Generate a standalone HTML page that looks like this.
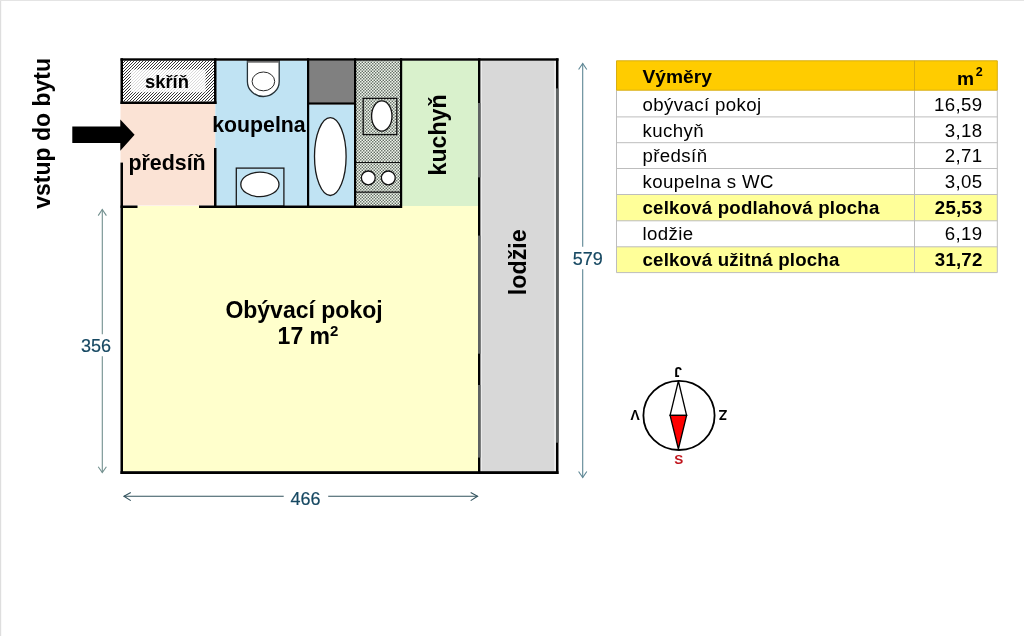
<!DOCTYPE html>
<html><head><meta charset="utf-8">
<style>
html,body{margin:0;padding:0;background:#fff;width:1024px;height:636px;overflow:hidden}
svg{display:block;will-change:transform;font-family:"Liberation Sans",sans-serif}
</style></head>
<body>
<svg width="1024" height="636" viewBox="0 0 1024 636">
<defs>
<pattern id="hatch" width="3" height="3" patternUnits="userSpaceOnUse">
<rect width="3" height="3" fill="#fff"/>
<path d="M-1,1 L1,-1 M0,3 L3,0 M2,4 L4,2" stroke="#2a2a2a" stroke-width="0.95"/>
</pattern>
<pattern id="dots" width="3" height="3" patternUnits="userSpaceOnUse">
<rect width="3" height="3" fill="#f0f6ec"/>
<rect x="0.1" y="0.1" width="1.35" height="1.35" fill="#525c54"/>
<rect x="1.6" y="1.6" width="1.35" height="1.35" fill="#525c54"/>
</pattern>
</defs>
<rect x="0" y="0" width="1024" height="636" fill="#fff"/>
<rect x="0" y="0" width="1.2" height="636" fill="#dedede"/>
<rect x="0" y="0" width="1024" height="1" fill="#e4e4e4"/>

<!-- fills -->
<rect x="123" y="60.5" width="91" height="41" fill="url(#hatch)"/>
<rect x="130.7" y="69.5" width="74.8" height="22.7" fill="#fff" fill-opacity="0.82"/>
<rect x="120.5" y="104" width="94.8" height="101.5" fill="#fbe3d5"/>
<rect x="215.3" y="60.5" width="91.7" height="145" fill="#c0e3f3"/>
<rect x="309" y="60.5" width="45" height="42" fill="#808080"/>
<rect x="309" y="104.6" width="45" height="101" fill="#c0e3f3"/>
<rect x="356" y="60.5" width="44" height="145" fill="url(#dots)"/>
<rect x="402" y="60.5" width="76" height="145.5" fill="#d9f1cc"/>
<rect x="123" y="206" width="355" height="265.5" fill="#ffffcc"/>
<rect x="480.5" y="60.5" width="75.5" height="411" fill="#d8d8d8"/>
<rect x="480.4" y="60.5" width="1.3" height="411" fill="#f4f4f4"/>
<rect x="554.4" y="60.5" width="1.2" height="411" fill="#f4f4f4"/>

<!-- fixtures -->
<path d="M247.4,60.5 V81.4 A15.9,15.1 0 0 0 279.2,81.4 V60.5 Z" fill="#fff" stroke="#263238" stroke-width="1.3"/>
<rect x="247.4" y="60.5" width="31.8" height="2.2" fill="#6a6a6a"/>
<ellipse cx="263.4" cy="81.4" rx="11.3" ry="9.4" fill="#fff" stroke="#2a2a2a" stroke-width="1"/>
<rect x="236.3" y="168.1" width="47.6" height="38" fill="none" stroke="#1a1a1a" stroke-width="1.3"/>
<ellipse cx="259.9" cy="184.4" rx="19.1" ry="12.2" fill="#fff" stroke="#1a1a1a" stroke-width="1.3"/>
<ellipse cx="330.3" cy="156.6" rx="15.8" ry="38.9" fill="#fff" stroke="#1a1a1a" stroke-width="1.3"/>
<rect x="363.2" y="98.4" width="33.6" height="36.2" fill="none" stroke="#111" stroke-width="1.3"/>
<ellipse cx="381.8" cy="116" rx="10.2" ry="15.1" fill="#fff" stroke="#111" stroke-width="1.3"/>
<path d="M356,162.5 H400 M356,192.2 H400" stroke="#111" stroke-width="1.2"/>
<circle cx="368.3" cy="177.9" r="6.9" fill="#fff" stroke="#111" stroke-width="1.3"/>
<circle cx="388.3" cy="177.9" r="6.9" fill="#fff" stroke="#111" stroke-width="1.3"/>

<!-- walls -->
<g fill="#000">
<rect x="120.5" y="58.3" width="438" height="2.4"/>
<rect x="120.5" y="58.3" width="2.5" height="45.7"/>
<rect x="120.5" y="101.5" width="96" height="2.5"/>
<rect x="214" y="58.3" width="2.5" height="45.7"/>
<rect x="214" y="148" width="2.5" height="60"/>
<rect x="120.5" y="162.6" width="2.5" height="311.4"/>
<rect x="120.5" y="205.5" width="17" height="2.5"/>
<rect x="199" y="205.5" width="203" height="2.5"/>
<rect x="307" y="58.3" width="2.2" height="149.7"/>
<rect x="307" y="102.3" width="49" height="2.3"/>
<rect x="354" y="58.3" width="2.2" height="149.7"/>
<rect x="400" y="58.3" width="2.2" height="149.7"/>
<rect x="478" y="58.3" width="2.4" height="415.7"/>
<rect x="556" y="58.3" width="2.5" height="415.7"/>
<rect x="120.5" y="471.2" width="438" height="2.8"/>
</g>
<g fill="#5e6262">
<rect x="478" y="103" width="2.4" height="74.4"/>
<rect x="478" y="235.6" width="2.4" height="118.1"/>
<rect x="478" y="385" width="2.4" height="72.6"/>
<rect x="556" y="88.4" width="2.5" height="354.3"/>
</g>

<!-- entry arrow -->
<path d="M72.3,126.6 H120.3 V119.4 L134.6,134.7 L120.3,150.7 V142.9 H72.3 Z" fill="#000"/>

<!-- room labels -->
<g font-weight="bold" fill="#000">
<text x="0" y="0" font-size="23" transform="translate(49.5,208.8) rotate(-90)">vstup do bytu</text>
<text x="145" y="87.7" font-size="18.4">skříň</text>
<text x="128.4" y="169.6" font-size="21.4">předsíň</text>
<text x="212.2" y="131.6" font-size="21.3">koupelna</text>
<text x="0" y="0" font-size="23.2" transform="translate(445.5,175.5) rotate(-90)">kuchyň</text>
<text x="0" y="0" font-size="23.3" transform="translate(526,295.3) rotate(-90)">lodžie</text>
<text x="304" y="317.8" font-size="23" text-anchor="middle">Obývací pokoj</text>
<text x="308" y="343.6" font-size="23" text-anchor="middle">17 m<tspan font-size="15" dy="-7.5">2</tspan></text>
</g>

<!-- dimensions -->
<g stroke="#72908f" stroke-width="1.1" fill="none">
<path d="M102.3,209.5 V334.2 M102.3,356.3 V472.5"/>
<path d="M98.2,215.6 L102.3,209.5 L106.4,215.6 M98.2,466.7 L102.3,472.6 L106.4,466.7"/>
</g>
<g stroke="#33535e" stroke-width="1.1" fill="none">
<path d="M124,496.3 H283.7 M328.2,496.3 H477.6"/>
<path d="M130.8,492.4 L123.9,496.3 L130.8,500.6 M470.7,492.4 L477.6,496.3 L470.7,500.6"/>
</g>
<g stroke="#5e8795" stroke-width="1.1" fill="none">
<path d="M582.7,63.5 V246.8 M582.7,269.2 V477.5"/>
<path d="M578.6,69.5 L582.7,63.4 L586.8,69.5 M578.6,471.5 L582.7,477.6 L586.8,471.5"/>
</g>
<g fill="#164862" font-size="18" stroke="#164862" stroke-width="0.2">
<text x="81" y="352">356</text>
<text x="290.5" y="505">466</text>
<text x="572.7" y="265">579</text>
</g>

<!-- table -->
<g>
<rect x="616.5" y="60.8" width="380.8" height="29.4" fill="#ffcc00"/>
<rect x="616.5" y="194.5" width="380.8" height="26.3" fill="#ffff99"/>
<rect x="616.5" y="246.8" width="380.8" height="25.8" fill="#ffff99"/>
<g stroke="#bdbdbd" stroke-width="1" fill="none">
<path d="M616.5,90.2 V272.6 M914.5,90.2 V272.6 M997.3,90.2 V272.6"/>
<path d="M616.5,116.9 H997.3 M616.5,142.7 H997.3 M616.5,168.5 H997.3 M616.5,194.5 H997.3 M616.5,220.8 H997.3 M616.5,246.8 H997.3 M616.5,272.6 H997.3"/>
</g>
<g stroke="#d8ad10" stroke-width="1" fill="none">
<path d="M616.5,60.8 H997.3 M616.5,90.2 H997.3 M616.5,60.8 V90.2 M914.5,60.8 V90.2 M997.3,60.8 V90.2"/>
</g>
<g font-size="18.67" letter-spacing="0.38" fill="#000">
<text x="642.5" y="82.8" font-weight="bold" font-size="19.2" letter-spacing="0">Výměry</text>
<text x="974" y="84.6" font-weight="bold" font-size="19.2" letter-spacing="0" text-anchor="end">m</text><text x="975.8" y="75.7" font-weight="bold" font-size="12.5" letter-spacing="0">2</text>
<text x="642.5" y="110.8">obývací pokoj</text>
<text x="642.5" y="136.6">kuchyň</text>
<text x="642.5" y="162.4">předsíň</text>
<text x="642.5" y="188.2">koupelna s WC</text>
<text x="642.5" y="214.2" font-weight="bold" letter-spacing="0.2">celková podlahová plocha</text>
<text x="642.5" y="240.3">lodžie</text>
<text x="642.5" y="266.2" font-weight="bold" letter-spacing="0.2">celková užitná plocha</text>
<text x="982.5" y="110.8" text-anchor="end">16,59</text>
<text x="982.5" y="136.6" text-anchor="end">3,18</text>
<text x="982.5" y="162.4" text-anchor="end">2,71</text>
<text x="982.5" y="188.2" text-anchor="end">3,05</text>
<text x="982.5" y="214.2" text-anchor="end" font-weight="bold" letter-spacing="0.2">25,53</text>
<text x="982.5" y="240.3" text-anchor="end">6,19</text>
<text x="982.5" y="266.2" text-anchor="end" font-weight="bold" letter-spacing="0.2">31,72</text>
</g>
</g>

<!-- compass -->
<g>
<ellipse cx="679" cy="415.4" rx="35.6" ry="34.6" fill="none" stroke="#000" stroke-width="1.8"/>
<path d="M678.4,381 L686.6,415.3 L670.1,415.3 Z" fill="#fff" stroke="#000" stroke-width="1.3"/>
<path d="M670.1,415.3 L686.6,415.3 L678.4,449 Z" fill="#ff0000" stroke="#000" stroke-width="1.3"/>
<g font-weight="bold" font-size="14" fill="#000" text-anchor="middle">
<text x="0" y="0" transform="translate(678.2,367.3) rotate(180)">J</text>
<text x="0" y="0" transform="translate(635,409.8) rotate(180)">V</text>
<text x="0" y="0" transform="translate(722.9,410.1) rotate(180)">Z</text>
</g>
<text x="678.8" y="464" font-weight="bold" font-size="13.5" fill="#c0141c" text-anchor="middle">S</text>
</g>
</svg>
</body></html>
